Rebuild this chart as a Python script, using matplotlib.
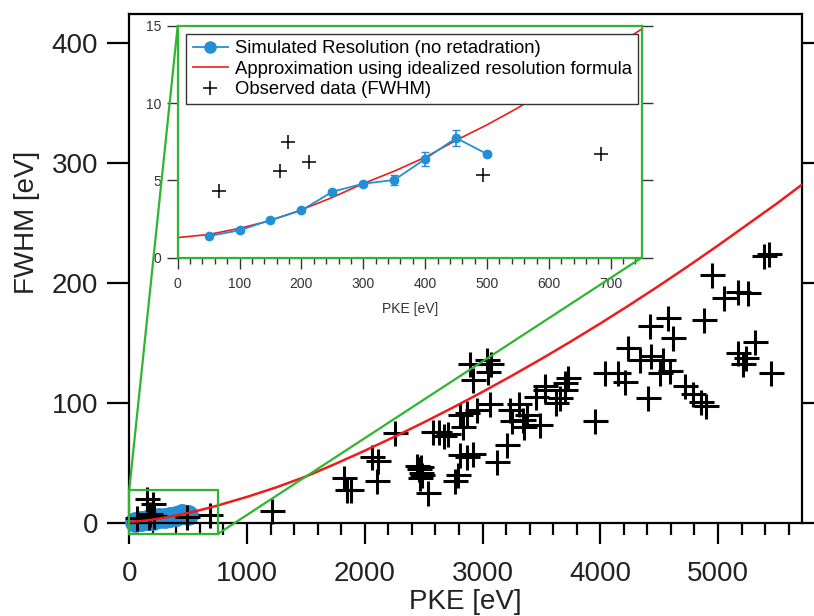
import matplotlib.pyplot as plt
from matplotlib.patches import Rectangle, ConnectionPatch
from matplotlib.lines import Line2D
from matplotlib.ticker import MultipleLocator

# === Data ===
# simulated resolution, no retardation
sim_pke = [50, 100, 150, 200, 250, 300, 350, 400, 450, 500]
sim_fwhm = [1.40, 1.77, 2.44, 3.06, 4.27, 4.79, 5.03, 6.39, 7.75, 6.71]
sim_err = [0.08, 0.08, 0.1, 0.1, 0.12, 0.12, 0.3, 0.45, 0.52, 0.15]

# idealized resolution formula, sampled off the red curve
approx_pke = [0, 50, 100, 150, 200, 250, 300, 350, 400, 450, 500, 550, 650, 750,
              1000, 1250, 1500, 1750, 2000, 2250, 2500, 2750, 3000, 3250, 3500,
              3750, 4000, 4250, 4500, 4750, 5000, 5250, 5500, 5710]
approx_fwhm = [1.3, 1.5, 1.9, 2.4, 3.1, 3.9, 4.8, 5.6, 6.5, 7.6, 8.6, 9.7, 12.2, 14.8,
               22.0, 30.0, 39.0, 49.5, 60.5, 72.0, 84.0, 96.5, 109.5, 123.0, 137.0,
               151.5, 166.5, 182.0, 198.0, 214.5, 231.5, 249.0, 266.5, 282.0]

# observed peak widths
obs_pke = [66, 165, 179, 213, 494, 685, 150, 200,
           1209, 1823, 1850, 1882, 2060, 2110, 2105, 2256,
           2440, 2460, 2475, 2490, 2480, 2470, 2538,
           2581, 2630, 2670, 2710, 2807, 2864, 2830,
           2807, 2864, 2920, 2765, 2790,
           2892, 2920, 3034, 3076, 3050, 2949, 3062,
           3119, 3204, 3231, 3250, 3342, 3380, 3350, 3309, 3486,
           3458, 3529, 3529, 3700, 3727, 3699, 3656, 3628,
           3953, 4038, 4151, 4208, 4236, 4335, 4435, 4533, 4590,
           4505, 4406, 4420, 4576, 4618, 4717, 4788, 4859, 4900,
           4881, 4952, 5048, 5170, 5255, 5390, 5430,
           5170, 5240, 5210, 5311, 5453]
obs_fwhm = [4.3, 5.6, 7.5, 6.2, 5.35, 6.7, 20, 16,
            10.5, 38, 28, 28, 55, 52, 35, 75,
            48, 45, 42, 40, 47, 38, 25,
            76, 76, 73, 74, 90, 92, 80,
            57, 55, 58, 35, 40,
            133, 119, 136, 133, 126, 94, 99,
            51, 65, 94, 85, 86, 90, 80, 99, 82,
            105, 114, 111, 117, 121, 111, 104, 100,
            85, 125, 125, 118, 146, 136, 139, 136, 127,
            125, 104, 164, 171, 154, 114, 108, 101, 98,
            169, 207, 188, 193, 192, 223, 224,
            142, 138, 133, 151, 125]

# zoom window shown in the inset
zoom_x = (0, 750)
zoom_y = (-9, 28)

# === Style ===
BLUE = '#2290d4'
RED = '#ee1c1c'
GREEN = '#2fb52f'
TXT = '#222222'
GREY = '#333333'

plt.rcParams['font.family'] = ['Liberation Sans', 'DejaVu Sans']

fig = plt.figure(figsize=(8.14, 6.16), dpi=100)

# === Main axes ===
ax = fig.add_axes([0.1588, 0.1505, 0.826, 0.8268])
ax.plot(sim_pke, sim_fwhm, color=BLUE, lw=2, marker='o', ms=14, clip_on=False, zorder=2)
ax.plot(obs_pke, obs_fwhm, ls='none', marker='+', ms=18, mew=2.2, color='black',
        clip_on=False, zorder=3)
ax.plot(approx_pke, approx_fwhm, color=RED, lw=1.8, zorder=4)

ax.set_xlim(0, 5710)
ax.set_ylim(0, 424.4)
ax.set_xticks(range(0, 5001, 1000))
ax.xaxis.set_minor_locator(MultipleLocator(200))
ax.set_yticks(range(0, 401, 100))
for s in ax.spines.values():
    s.set_linewidth(1.6)
ax.tick_params(axis='x', which='major', direction='out', length=15, width=1.6,
               pad=12, labelsize=20, labelcolor=TXT)
ax.tick_params(axis='x', which='minor', direction='out', length=8.5, width=1.6)
ax.tick_params(axis='y', which='major', direction='out', length=15.5, width=1.6,
               left=True, right=True, pad=7, labelsize=20, labelcolor=TXT)
ax.set_xlabel('PKE [eV]', fontsize=20, color=TXT)
ax.set_ylabel('FWHM [eV]', fontsize=20, color=TXT)
ax.xaxis.set_label_coords(0.5, -0.129)
ax.yaxis.set_label_coords(-0.133, 0.59)

ax.add_patch(Rectangle((zoom_x[0], zoom_y[0]), zoom_x[1] - zoom_x[0], zoom_y[1] - zoom_y[0],
                       fill=False, ec=GREEN, lw=1.6, clip_on=False, zorder=5))

# === Inset ===
ax_in = fig.add_axes([0.2183, 0.5817, 0.570, 0.3761])
ax_in.errorbar(sim_pke, sim_fwhm, yerr=sim_err, color=BLUE, lw=1.3, marker='o',
               ms=6, capsize=3, elinewidth=1.2, zorder=3)
h_fit, = ax_in.plot(approx_pke, approx_fwhm, color=RED, lw=1.2, zorder=2)
h_obs, = ax_in.plot(obs_pke, obs_fwhm, ls='none', marker='+', ms=10, mew=1.1,
                    color='black', zorder=4)
h_sim = Line2D([], [], color=BLUE, lw=1.3, marker='o', ms=8)
ax_in.set_xlim(0, 750)
ax_in.set_ylim(0, 15)
ax_in.set_xticks(range(0, 701, 100))
ax_in.xaxis.set_minor_locator(MultipleLocator(20))
ax_in.set_yticks([0, 5, 10, 15])
for s in ax_in.spines.values():
    s.set_color(GREEN)
    s.set_linewidth(1.6)
ax_in.tick_params(axis='x', which='major', direction='out', length=8, width=1,
                  pad=6, labelsize=10, color=GREY, labelcolor=GREY)
ax_in.tick_params(axis='x', which='minor', direction='out', length=4, width=1, color=GREY)
ax_in.tick_params(axis='y', which='major', direction='out', length=8, width=1,
                  left=True, right=True, pad=4, labelsize=10, color=GREY,
                  labelcolor=GREY)
ax_in.set_xlabel('PKE [eV]', fontsize=10, color=GREY, labelpad=8)

leg = ax_in.legend([h_sim, h_fit, h_obs],
                   ['Simulated Resolution (no retadration)',
                    'Approximation using idealized resolution formula',
                    'Observed data (FWHM)'],
                   loc='upper left', bbox_to_anchor=(0.018, 0.966), borderaxespad=0,
                   fontsize=13.3, fancybox=False, framealpha=1, edgecolor=GREY,
                   handlelength=1.9, handletextpad=0.4, labelspacing=0.18, borderpad=0.35)
leg.get_frame().set_linewidth(1.0)
leg.set_zorder(10)

# green lines joining the zoom box to the inset
for a, b in [((0, 15), (zoom_x[0], zoom_y[1])), ((750, 0), (zoom_x[1], zoom_y[0]))]:
    con = ConnectionPatch(xyA=a, coordsA=ax_in.transData, xyB=b, coordsB=ax.transData,
                          color=GREEN, lw=1.6, zorder=5)
    fig.add_artist(con)

fig.savefig('out.png', dpi=100)
